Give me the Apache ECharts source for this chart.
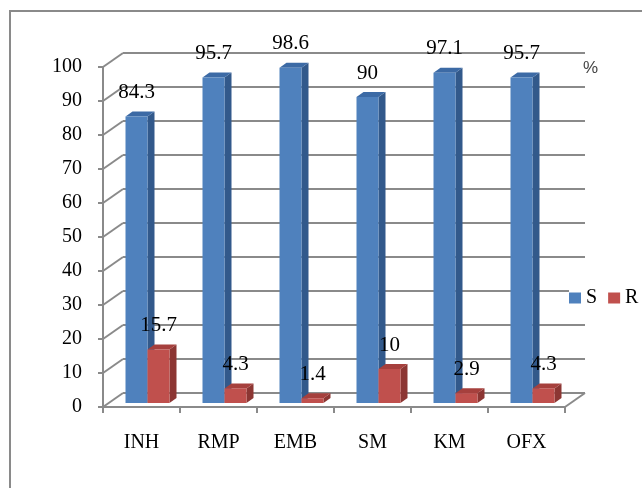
<!DOCTYPE html>
<html>
<head>
<meta charset="utf-8">
<script src="https://cdn.jsdelivr.net/npm/echarts@6/dist/echarts.min.js"></script>
<style>
  html, body { margin: 0; padding: 0; background: #ffffff; }
  #chart { width: 642px; height: 488px; }
</style>
</head>
<body>
<div id="chart"></div>
<script>
// Susceptibility (S) and resistance (R) percentages per drug
const categories = ['INH', 'RMP', 'EMB', 'SM', 'KM', 'OFX'];
const sValues = [84.3, 95.7, 98.6, 90, 97.1, 95.7];
const rValues = [15.7, 4.3, 1.4, 10, 2.9, 4.3];
const valueTicks = [0, 10, 20, 30, 40, 50, 60, 70, 80, 90, 100];

const SERIF = 'Liberation Serif';
const GRID_GRAY = '#8a8a8a';
const WALL_DEPTH = [20, -14];   // offset from front plane to back wall
const BAR_DEPTH = [7, -5];      // visible thickness of each column
const BAR_W = 22;

const chart = echarts.init(document.getElementById('chart'), null, { renderer: 'canvas' });

// Draws one 3D column: front face, top face, right side face and its value label
function columnRenderer(side, colors) {
  return function (params, api) {
    const i = api.value(0);
    const v = api.value(1);
    const top = api.coord([i, v]);
    const base = api.coord([i, 0]);
    const x0 = side < 0 ? top[0] - BAR_W : top[0];
    const x1 = x0 + BAR_W;
    const yT = top[1], yB = base[1];
    const dx = BAR_DEPTH[0], dy = BAR_DEPTH[1];
    return {
      type: 'group',
      children: [
        { type: 'polygon', shape: { points: [[x1, yT], [x1 + dx, yT + dy], [x1 + dx, yB + dy], [x1, yB]] },
          style: { fill: colors.side } },
        { type: 'polygon', shape: { points: [[x0, yT], [x0 + dx, yT + dy], [x1 + dx, yT + dy], [x1, yT]] },
          style: { fill: colors.top } },
        { type: 'rect', shape: { x: x0, y: yT, width: BAR_W, height: yB - yT },
          style: { fill: colors.front } },
        { type: 'text', x: (x0 + x1) / 2, y: yT - 24,
          style: { text: String(v), fill: '#000', fontSize: 21, fontFamily: SERIF,
                   align: 'center', verticalAlign: 'middle' } }
      ]
    };
  };
}

// Receding lines that join the front value axis to the back wall, plus the floor's right edge
function depthLines(params, api) {
  const v = api.value(1);
  const p = api.coord([0, v]);
  const cw = api.size([1, 0])[0];
  const left = p[0] - cw / 2;
  const lineStyle = { stroke: GRID_GRAY, lineWidth: 2 };
  const children = [
    { type: 'line', shape: { x1: left, y1: p[1], x2: left + WALL_DEPTH[0], y2: p[1] + WALL_DEPTH[1] }, style: lineStyle }
  ];
  if (v === 0) {
    const right = left + cw * categories.length;
    children.push({ type: 'line', shape: { x1: right, y1: p[1], x2: right + WALL_DEPTH[0], y2: p[1] + WALL_DEPTH[1] }, style: lineStyle });
  }
  return { type: 'group', children: children };
}

const hiddenCat = { type: 'category', data: categories, show: false, boundaryGap: true };

const option = {
  backgroundColor: '#ffffff',
  animation: false,
  grid: [
    // front plane (axes)
    { left: 103, top: 67, width: 462, height: 340 },
    // back wall (gridlines)
    { left: 123, top: 53, width: 462, height: 340 },
    // column plane
    { left: 109, top: 63, width: 462, height: 340 }
  ],
  xAxis: [
    { type: 'category', gridIndex: 0, data: categories, boundaryGap: true,
      axisLine: { show: true, lineStyle: { color: GRID_GRAY, width: 2 } },
      axisTick: { show: true, length: 6, lineStyle: { color: GRID_GRAY, width: 2 } },
      axisLabel: { fontSize: 20, fontFamily: SERIF, color: '#000', margin: 26 } },
    Object.assign({ gridIndex: 1 }, hiddenCat),
    Object.assign({ gridIndex: 2 }, hiddenCat)
  ],
  yAxis: [
    { type: 'value', gridIndex: 0, min: 0, max: 100, interval: 10,
      axisLine: { show: true, lineStyle: { color: GRID_GRAY, width: 2 } },
      axisTick: { show: true, length: 5, lineStyle: { color: GRID_GRAY, width: 2 } },
      axisLabel: { fontSize: 20, fontFamily: SERIF, color: '#000', margin: 21 },
      splitLine: { show: false } },
    { type: 'value', gridIndex: 1, min: 0, max: 100, interval: 10,
      axisLine: { show: false }, axisTick: { show: false }, axisLabel: { show: false },
      splitLine: { show: true, lineStyle: { color: GRID_GRAY, width: 2 } } },
    { type: 'value', gridIndex: 2, min: 0, max: 100, interval: 10, show: false }
  ],
  legend: {
    data: ['S', 'R'],
    left: 569, top: 286,
    icon: 'rect', itemWidth: 12, itemHeight: 11, itemGap: 11,
    textStyle: { fontSize: 20, fontFamily: SERIF, color: '#000' },
    backgroundColor: '#ffffff', padding: [2, 0, 2, 0]
  },
  graphic: [
    { type: 'rect', z: -10, shape: { x: 10, y: 11, width: 640, height: 490 },
      style: { fill: 'none', stroke: GRID_GRAY, lineWidth: 2 } },
    { type: 'text', left: 583, top: 60,
      style: { text: '%', fill: '#444', fontSize: 17, fontFamily: 'Liberation Sans' } }
  ],
  series: [
    { type: 'custom', name: 'depth', xAxisIndex: 0, yAxisIndex: 0, silent: true,
      data: valueTicks.map(v => [0, v]), renderItem: depthLines, z: 1 },
    { type: 'custom', name: 'S', xAxisIndex: 2, yAxisIndex: 2,
      itemStyle: { color: '#4f81bd' },
      data: sValues.map((v, i) => [i, v]),
      renderItem: columnRenderer(-1, { front: '#4f81bd', top: '#3c6aa5', side: '#32598b' }), z: 3 },
    { type: 'custom', name: 'R', xAxisIndex: 2, yAxisIndex: 2,
      itemStyle: { color: '#c0504d' },
      data: rValues.map((v, i) => [i, v]),
      renderItem: columnRenderer(1, { front: '#c0504d', top: '#a6403d', side: '#8c3633' }), z: 4 }
  ]
};

chart.setOption(option);
</script>
</body>
</html>
